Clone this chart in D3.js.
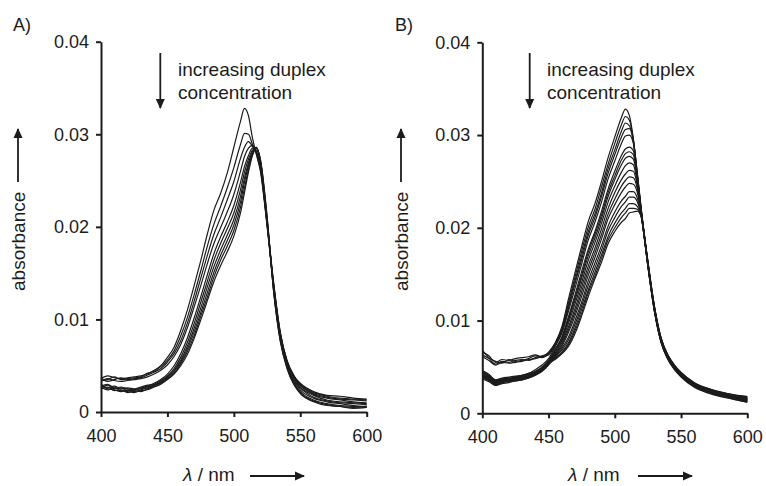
<!DOCTYPE html>
<html>
<head>
<meta charset="utf-8">
<script src="https://cdn.jsdelivr.net/npm/d3@7"></script>
<style>
  html, body { margin: 0; padding: 0; background: #fff; }
  svg { display: block; }
  text { font-family: "Liberation Sans", Arial, sans-serif; fill: #1c1c1c; }
</style>
</head>
<body>
<svg id="chart" width="766" height="486"></svg>
<script>
// Wavelength grid (nm)
const wavelength = [400,405,410,415,420,425,430,435,440,445,450,455,460,465,470,475,480,485,490,495,500,505,508,511,514,517,520,525,530,535,540,545,550,560,570,580,590,600];
// Tick values and labels
const xTicks = [400, 450, 500, 550, 600];
const yTicks = [0, 0.01, 0.02, 0.03, 0.04];
const yTickLabels = ["0", "0.01", "0.02", "0.03", "0.04"];
const panelLabels = ["A)", "B)"];

// Absorbance values in units of 10^-3
// Panel A
const a1 = [3.6,3.9,3.7,3.6,3.7,3.8,3.9,4.1,4.5,5.0,5.9, 7.0,8.8,11.0,13.6,16.3,19.2,21.8,23.6,25.8,28.6,31.4,32.8,32.0,29.6,27.8,26.0, 20.1,13.5,8.3,5.4,3.9,3.1,2.2,1.8,1.7,1.5,1.4];
const a2 = [3.4,3.5,3.8,3.5,3.6,3.7,3.8,4.2,4.4,4.9,5.6, 6.6,8.2,10.2,12.6,15.2,17.9,20.3,22.2,24.2,26.4,28.9,30.1,30.0,28.9,27.9,26.2, 20.3,13.7,8.4,5.5,3.8,2.9,2.0,1.6,1.4,1.3,1.2];
const a3 = [3.7,3.3,3.5,3.7,3.5,3.6,3.7,4.0,4.3,4.7,5.4, 6.3,7.7,9.6,11.9,14.4,16.9,19.2,21.0,22.9,24.9,27.4,28.6,29.2,28.7,28.0,26.4, 20.4,13.8,8.5,5.6,4.0,3.0,2.1,1.7,1.5,1.4,1.3];
const a4 = [3.3,3.6,3.4,3.3,3.4,3.5,3.6,3.8,4.1,4.5,5.1, 6.0,7.3,9.1,11.3,13.6,16.0,18.2,19.9,21.6,23.5,26.0,27.6,28.5,28.8,28.2,26.5, 20.6,13.9,8.6,5.5,3.9,2.9,1.9,1.5,1.3,1.1,1.0];
const a5 = [2.8,3.0,2.6,2.7,2.5,2.4,2.6,2.8,3.1,3.5,4.1, 5.0,6.3,8.0,10.1,12.4,14.8,17.1,18.9,20.5,22.3,24.8,26.5,27.7,28.5,28.5,26.7, 20.3,13.6,8.3,5.3,3.7,2.7,1.8,1.3,1.1,1.0,0.9];
const a6 = [3.0,2.6,2.8,2.5,2.6,2.5,2.7,2.9,3.0,3.4,3.9, 4.7,5.9,7.5,9.5,11.8,14.1,16.4,18.2,19.8,21.5,24.0,25.9,27.3,28.3,28.6,26.9, 20.5,13.4,8.1,5.1,3.5,2.6,1.6,1.2,1.0,0.9,0.8];
const a7 = [2.6,2.9,2.5,2.6,2.3,2.4,2.5,2.7,2.9,3.3,3.8, 4.5,5.6,7.1,9.0,11.2,13.5,15.7,17.5,19.1,20.8,23.3,25.3,26.9,28.1,28.6,27.0, 20.7,13.3,8.0,5.0,3.4,2.4,1.5,1.1,0.9,0.7,0.6];
const a8 = [2.9,2.5,2.4,2.2,2.4,2.2,2.4,2.6,2.9,3.2,3.7, 4.4,5.4,6.8,8.6,10.7,12.9,15.1,16.9,18.5,20.2,22.7,24.8,26.6,27.9,28.5,27.1, 20.8,13.1,7.8,4.9,3.2,2.2,1.3,0.9,0.7,0.6,0.5];
const a9 = [2.5,2.7,2.3,2.4,2.1,2.3,2.2,2.5,2.8,3.1,3.6, 4.2,5.2,6.5,8.2,10.3,12.4,14.6,16.4,17.9,19.6,22.1,24.2,26.2,27.8,28.5,27.2, 21.0,13.0,7.7,4.8,3.1,2.1,1.2,0.8,0.6,0.5,0.6];
const a10 = [2.7,2.4,2.6,2.3,2.2,2.1,2.3,2.4,2.7,3.0,3.5, 4.1,5.0,6.2,7.9,9.9,12.0,14.1,15.8,17.3,19.0,21.5,23.7,25.9,27.7,28.5,27.3, 21.2,12.9,7.6,4.7,3.0,2.0,1.1,0.7,0.6,0.4,0.5];

// Panel B
const b1 = [6.6,6.2,5.5,5.8,5.7,5.9,6.0,6.1,6.3,6.1,6.6, 7.6,9.3,12.3,15.2,18.0,20.7,22.6,25.0,27.6,29.8,31.9,32.8,32.1,29.6,25.8,21.9, 16.3,11.4,8.0,6.2,5.1,4.3,3.2,2.6,2.2,1.9,1.6];
const b2 = [6.3,5.9,5.3,5.6,5.5,5.7,5.8,5.7,6.0,6.2,6.5, 7.5,9.1,11.9,14.7,17.5,20.1,22.0,24.4,26.9,29.1,31.1,32.0,31.6,29.5,25.7,21.8, 16.2,11.3,7.9,6.1,5.0,4.2,3.0,2.4,2.0,1.7,1.4];
const b3 = [6.8,6.0,5.6,5.4,5.8,5.6,5.7,5.9,6.2,6.0,6.4, 7.4,8.9,11.6,14.3,17.0,19.6,21.5,23.8,26.4,28.4,30.4,31.3,31.0,29.4,25.9,22.0, 16.4,11.5,8.1,6.3,5.2,4.4,3.3,2.7,2.3,2.0,1.8];
const b4 = [6.1,5.7,5.2,5.5,5.4,5.5,5.6,5.8,5.9,6.1,6.3, 7.3,8.8,11.3,14.0,16.6,19.2,21.1,23.4,25.9,27.9,29.8,30.6,30.7,29.3,25.6,21.7, 16.0,11.1,7.8,6.0,4.9,4.1,3.0,2.3,1.9,1.6,1.3];
const b5 = [4.6,4.2,3.6,3.8,3.9,4.0,4.1,4.3,4.7,5.2,5.9, 7.2,8.6,11.0,13.5,16.1,18.7,20.6,22.8,25.3,27.2,29.1,29.9,30.0,29.1,25.5,21.8, 16.1,11.2,7.9,6.1,5.0,4.2,3.1,2.5,2.1,1.8,1.5];
const b6 = [4.1,3.8,3.3,3.5,3.6,3.8,3.8,4.0,4.5,5.0,5.7, 6.9,8.2,10.4,12.8,15.3,17.7,19.6,21.8,24.2,26.1,27.8,28.5,28.7,28.3,25.4,21.6, 16.2,11.3,8.0,6.2,5.1,4.3,3.2,2.6,2.2,1.9,1.7];
const b7 = [4.4,4.0,3.5,3.7,3.8,3.7,4.0,4.2,4.4,4.9,5.6, 6.9,8.1,10.2,12.5,14.9,17.4,19.3,21.4,23.8,25.6,27.3,28.0,28.2,27.9,25.3,21.7, 15.9,11.0,7.7,5.9,4.8,4.0,2.9,2.3,1.9,1.5,1.2];
const b8 = [3.9,3.6,3.2,3.4,3.5,3.6,3.7,3.9,4.3,4.7,5.5, 6.8,8.0,10.0,12.2,14.6,17.0,18.9,21.0,23.4,25.2,26.8,27.5,27.7,27.4,25.1,21.5, 16.0,11.1,7.8,6.0,4.9,4.1,3.0,2.4,2.0,1.7,1.4];
const b9 = [4.3,3.9,3.4,3.6,3.5,3.9,3.9,4.1,4.4,4.8,5.5, 6.7,7.8,9.7,11.8,14.1,16.5,18.4,20.5,22.8,24.5,26.0,26.7,27.0,26.8,24.8,21.6, 16.3,11.4,8.1,6.3,5.2,4.4,3.3,2.7,2.3,2.0,1.8];
const b10 = [3.8,3.5,3.0,3.3,3.4,3.5,3.6,3.8,4.1,4.6,5.4, 6.5,7.6,9.3,11.3,13.6,15.9,17.8,19.9,22.1,23.8,25.2,25.8,26.2,26.1,24.5,21.4, 15.8,10.9,7.6,5.8,4.7,3.9,2.8,2.2,1.8,1.5,1.2];
const b11 = [4.5,4.1,3.6,3.7,3.8,3.9,4.1,4.3,4.5,4.9,5.6, 6.4,7.4,9.0,10.9,13.1,15.4,17.3,19.3,21.5,23.1,24.5,25.1,25.5,25.4,24.2,21.5, 16.2,11.2,7.9,6.1,5.0,4.2,3.1,2.5,2.1,1.8,1.6];
const b12 = [4.0,3.7,3.1,3.4,3.6,3.6,3.7,3.9,4.2,4.6,5.3, 6.3,7.2,8.7,10.5,12.6,14.9,16.8,18.8,21.0,22.5,23.8,24.4,24.8,24.7,23.8,21.3, 16.0,11.1,7.8,6.0,4.9,4.1,3.0,2.4,2.0,1.7,1.5];
const b13 = [4.2,3.8,3.5,3.5,3.7,3.8,3.9,4.0,4.3,4.7,5.4, 6.2,7.0,8.2,10.0,12.0,14.3,16.2,18.1,20.2,21.7,22.9,23.4,23.9,23.9,23.2,21.4, 16.1,11.2,7.9,6.2,5.1,4.3,3.2,2.6,2.2,1.9,1.7];
const b14 = [3.7,3.4,3.0,3.2,3.3,3.5,3.6,3.8,4.1,4.5,5.2, 6.1,6.8,7.9,9.6,11.6,13.8,15.7,17.6,19.7,21.1,22.3,22.8,23.3,23.3,22.8,21.2, 15.9,11.0,7.7,5.9,4.8,4.0,2.9,2.3,1.9,1.6,1.3];
const b15 = [4.4,4.0,3.3,3.6,3.7,3.9,4.0,4.1,4.4,4.8,5.4, 6.0,6.6,7.6,9.2,11.2,13.3,15.2,17.1,19.1,20.5,21.6,22.1,22.6,22.6,22.3,21.3, 16.1,11.3,8.0,6.2,5.1,4.3,3.2,2.6,2.2,1.9,1.6];
const b16 = [3.9,3.6,3.2,3.3,3.5,3.6,3.7,3.9,4.2,4.6,5.3, 5.9,6.5,7.4,8.9,10.8,13.0,14.8,16.7,18.7,20.0,21.1,21.6,22.1,22.1,22.0,21.1, 15.8,10.9,7.6,5.9,4.8,4.0,2.9,2.3,1.9,1.6,1.4];
const b17 = [4.1,3.7,3.4,3.5,3.6,3.7,3.8,4.0,4.3,4.8,5.4, 5.8,6.4,7.2,8.6,10.5,12.6,14.5,16.3,18.3,19.6,20.6,21.0,21.6,21.7,21.8,21.2, 16.0,11.1,7.8,6.0,4.9,4.1,3.0,2.4,2.0,1.7,1.5];

const seriesA = [a1,a2,a3,a4,a5,a6,a7,a8,a9,a10];
const seriesB = [b1,b2,b3,b4,b5,b6,b7,b8,b9,b10,b11,b12,b13,b14,b15,b16,b17];

const svg = d3.select("#chart");
const ink = "#1c1c1c";
const FONT = '"Liberation Sans", Arial, sans-serif';

const defs = svg.append("defs");
defs.append("marker").attr("id", "head").attr("viewBox", "0 0 10 10")
  .attr("refX", 9).attr("refY", 5).attr("markerWidth", 10).attr("markerHeight", 10)
  .attr("markerUnits", "userSpaceOnUse").attr("orient", "auto")
  .append("path").attr("d", "M0,0.5 L10,5 L0,9.5 Z").attr("fill", ink);

function drawPanel(cfg, series, label) {
  const x = d3.scaleLinear().domain([400, 600]).range([cfg.x0, cfg.x1]);
  const y = d3.scaleLinear().domain([0, 0.04]).range([cfg.y0, cfg.y1]);
  const g = svg.append("g");

  // curves
  const line = d3.line()
    .x((d, i) => x(wavelength[i]))
    .y(d => y(d / 1000))
    .curve(d3.curveMonotoneX);
  g.append("g").selectAll("path").data(series).join("path")
    .attr("d", line)
    .attr("fill", "none")
    .attr("stroke", ink)
    .attr("stroke-width", 1.2)
    .attr("stroke-linejoin", "round");

  // axes
  const xAxis = d3.axisBottom(x).tickValues(xTicks).tickSize(5).tickPadding(8).tickSizeOuter(0);
  const yAxis = d3.axisLeft(y).tickValues(yTicks).tickSize(5).tickPadding(7).tickSizeOuter(0)
    .tickFormat((d, i) => yTickLabels[i]);
  const gx = g.append("g").attr("transform", `translate(0,${cfg.y0})`).call(xAxis);
  const gy = g.append("g").attr("transform", `translate(${cfg.x0},0)`).call(yAxis);
  [gx, gy].forEach(a => {
    a.select(".domain").attr("stroke", ink).attr("stroke-width", 2);
    a.selectAll(".tick line").attr("stroke", ink).attr("stroke-width", 2);
    a.selectAll(".tick text").attr("font-size", 18).attr("fill", ink).attr("font-family", FONT);
  });
  gx.selectAll(".tick text").attr("dy", "0.93em");

  // panel label
  svg.append("text").attr("x", cfg.labelX).attr("y", 31).attr("font-size", 18).text(label);

  // annotation arrow + text
  svg.append("line").attr("x1", cfg.annX).attr("x2", cfg.annX).attr("y1", 53).attr("y2", 108)
    .attr("stroke", ink).attr("stroke-width", 1.8).attr("marker-end", "url(#head)");
  svg.append("text").attr("x", cfg.annTextX).attr("y", 76).attr("font-size", 19).text("increasing duplex");
  svg.append("text").attr("x", cfg.annTextX).attr("y", 99).attr("font-size", 19).text("concentration");

  // y-axis title
  svg.append("text").attr("transform", `translate(${cfg.yTitleX},291) rotate(-90)`)
    .attr("font-size", 19).text("absorbance");
  svg.append("line").attr("x1", cfg.yTitleX - 7).attr("x2", cfg.yTitleX - 7).attr("y1", 182).attr("y2", 129)
    .attr("stroke", ink).attr("stroke-width", 1.8).attr("marker-end", "url(#head)");

  // x-axis title
  const xt = svg.append("text").attr("x", cfg.xTitleX).attr("y", 481).attr("font-size", 19);
  xt.append("tspan").attr("font-style", "italic").text("λ");
  xt.append("tspan").text(" / nm");
  svg.append("line").attr("x1", cfg.xArrow0).attr("x2", cfg.xArrow1).attr("y1", 476).attr("y2", 476)
    .attr("stroke", ink).attr("stroke-width", 1.8).attr("marker-end", "url(#head)");
}

drawPanel({x0: 101, x1: 366.7, y0: 412, y1: 41.7, labelX: 13, annX: 160.3, annTextX: 178,
           yTitleX: 25, xTitleX: 183, xArrow0: 250, xArrow1: 304}, seriesA, panelLabels[0]);
drawPanel({x0: 482.3, x1: 747.3, y0: 413.3, y1: 42.3, labelX: 395, annX: 529.7, annTextX: 547,
           yTitleX: 408, xTitleX: 568, xArrow0: 638, xArrow1: 692}, seriesB, panelLabels[1]);
</script>
</body>
</html>
